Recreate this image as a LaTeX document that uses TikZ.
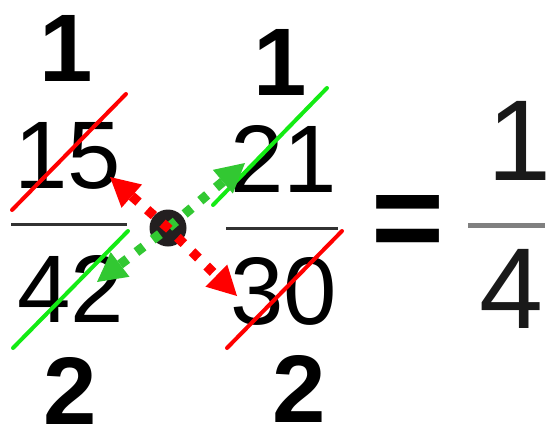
\documentclass[tikz,border=0pt]{standalone}
\usepackage{fontspec}
\setmainfont{Liberation Sans}
\usepackage{xcolor}
\definecolor{crossred}{RGB}{255,  0,  0}
\definecolor{crossgreen}{RGB}{ 20,235, 20}
\definecolor{arrowgreen}{RGB}{ 50,200, 50}
\definecolor{dotblack}{RGB}{ 35, 31, 32}
\definecolor{bargray}{RGB}{ 50, 50, 50}
\definecolor{lightbar}{RGB}{128,128,128}
\usepackage{tikz}
\usetikzlibrary{arrows.meta}
\tikzset{
  digits/.style={inner sep=0pt, font=\fontsize{96}{96}\selectfont},
  factor/.style={inner sep=0pt, font=\fontsize{96}{96}\selectfont\bfseries},
  answer/.style={inner sep=0pt, font=\fontsize{115}{115}\selectfont, text=black!90},
  equalsign/.style={inner sep=0pt, font=\fontsize{125}{125}\selectfont\bfseries},
  fracbar/.style={line width=3pt, color=bargray},
  answerbar/.style={line width=5pt, color=lightbar},
  strikered/.style={line width=4pt, line cap=round, color=crossred},
  strikegreen/.style={line width=4pt, line cap=round, color=crossgreen},
  bigtip/.tip={Triangle[length=29pt, width=31pt, line width=0pt]},
  redarrow/.style={bigtip-bigtip,
    line width=9.5pt, dash pattern=on 9pt off 11.5pt, color=crossred},
  greenarrow/.style={bigtip-bigtip,
    line width=9.5pt, dash pattern=on 9pt off 11.5pt, color=arrowgreen},
  crossdot/.style={circle, fill=dotblack, minimum size=37pt, inner sep=0pt}
}

\begin{document}
\begin{tikzpicture}[x=1pt, y=-1pt]
  \useasboundingbox (0,0) rectangle (548,425);

  %% first fraction
  \node[factor] (topL) at (66,48) {1};
  \node[digits] (num1) at (68,156) {15};
  \draw[fracbar] (11,224) -- (127,224);
  \node[digits] (den1) at (71,289) {42};
  \node[factor] (botL) at (70,391) {2};

  %% second fraction
  \node[factor] (topR) at (280,62) {1};
  \node[digits] (num2) at (284,159) {21};
  \draw[fracbar] (226,228) -- (338,228);
  \node[digits] (den2) at (284,291) {30};
  \node[factor] (botR) at (299,389) {2};

  %% result
  \node[equalsign] (eq) at (408,228) {=};
  \node[answer] (ansnum) at (519,141) {1};
  \draw[answerbar] (468,225) -- (545,225);
  \node[answer] (ansden) at (511,289) {4};

  %% cancel strokes
  \draw[strikered] (12,210) -- (126,94);
  \draw[strikegreen] (13,348) -- (128,231);
  \draw[strikegreen] (213,205) -- (327,88);
  \draw[strikered] (227,348) -- (342,231);

  %% cross-cancel arrows
  \node[crossdot] (dot) at (168,228) {};
  \coordinate (tipUL) at (110,177);
  \coordinate (tipLR) at (237,296);
  \coordinate (tipUR) at (245,163);
  \coordinate (tipLL) at (97,282);
  \draw[greenarrow] (tipLL) -- (dot.center) -- (tipUR);
  \draw[redarrow] (tipUL) -- (dot.center) -- (tipLR);
\end{tikzpicture}
\end{document}
